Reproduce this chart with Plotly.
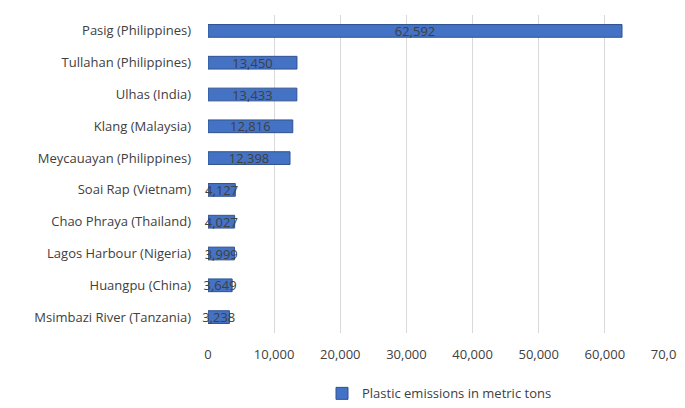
import plotly.graph_objects as go

rivers = ["Pasig (Philippines)", "Tullahan (Philippines)", "Ulhas (India)", "Klang (Malaysia)",
          "Meycauayan (Philippines)", "Soai Rap (Vietnam)", "Chao Phraya (Thailand)",
          "Lagos Harbour (Nigeria)", "Huangpu (China)", "Msimbazi River (Tanzania)"]
emissions = [62592, 13450, 13433, 12816, 12398, 4127, 4027, 3999, 3649, 3238]

fig = go.Figure(go.Bar(
    y=rivers, x=emissions, orientation="h",
    name="Plastic emissions in metric tons",
    marker=dict(color="#4472C4", line=dict(color="#2F528F", width=1)),
    text=[f"{v:,}" for v in emissions], textposition="inside",
    insidetextanchor="middle", textfont=dict(color="#404040", size=13),
    constraintext="none", cliponaxis=False, width=0.4,
))
fig.update_layout(
    width=685, height=408, margin=dict(l=200, r=22, t=7, b=74),
    plot_bgcolor="white", paper_bgcolor="white",
    font=dict(family="Open Sans", size=13, color="#404040"),
    showlegend=True,
    legend=dict(orientation="h", x=0.5, xanchor="center", y=-0.19, yanchor="middle"),
    xaxis=dict(range=[0, 70000], dtick=10000, tickformat=",", showgrid=True,
               gridcolor="#D9D9D9", zeroline=False, ticks="", automargin=False,
               ticklabelstandoff=12),
    yaxis=dict(autorange="reversed", automargin=False, ticklabelstandoff=16),
)
fig.write_html("out.html")
